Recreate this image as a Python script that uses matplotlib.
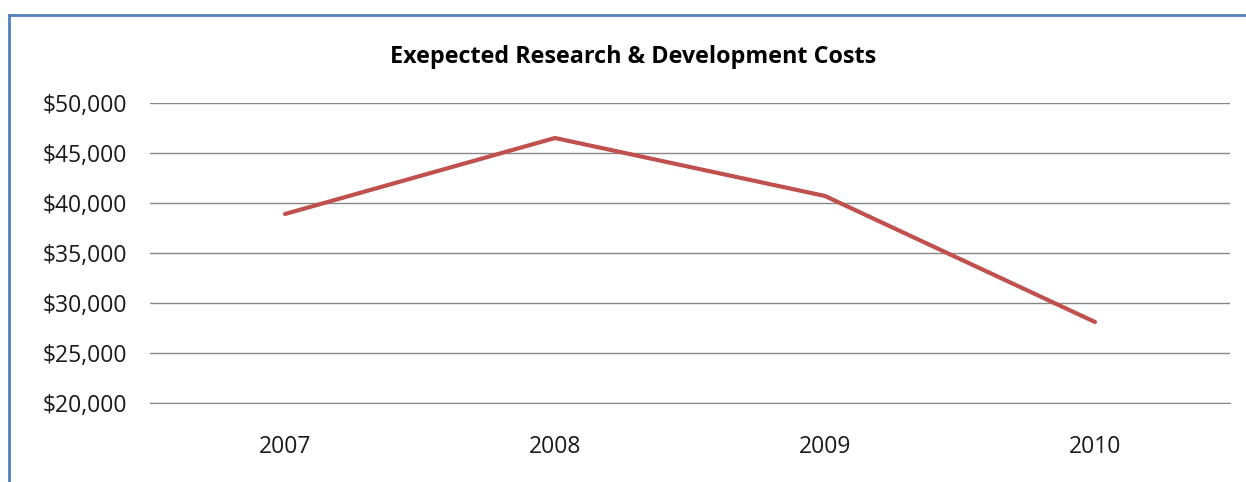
import matplotlib.pyplot as plt
from matplotlib.lines import Line2D
from matplotlib.ticker import FuncFormatter

years = ["2007", "2008", "2009", "2010"]
costs = [38900, 46500, 40700, 28100]
y_ticks = [20000, 25000, 30000, 35000, 40000, 45000, 50000]

plt.rcParams['font.family'] = ['Open Sans', 'DejaVu Sans']

W, H = 1246, 482
fig = plt.figure(figsize=(W / 100, H / 100), dpi=100)
ax = fig.add_axes([150 / W, 1 - 403 / H, 1080 / W, 300 / H])

x = [i + 0.5 for i in range(len(years))]
ax.plot(x, costs, color="#C0504D", lw=3, solid_capstyle="round", solid_joinstyle="round", zorder=3)

ax.set_xlim(0, len(years))
ax.set_ylim(20000, 50000)
ax.set_yticks(y_ticks)
ax.yaxis.set_major_formatter(FuncFormatter(lambda v, p: "${:,.0f}".format(v)))
ax.set_xticks(x)
ax.set_xticklabels(years)
ax.grid(axis="y", color="#868686", lw=1)
ax.set_axisbelow(True)
for s in ["top", "right", "left"]:
    ax.spines[s].set_visible(False)
ax.spines["bottom"].set_color("#868686")
ax.tick_params(axis="both", length=0, labelsize=16.5, colors="#1a1a1a")
ax.tick_params(axis="y", pad=16.5)
ax.tick_params(axis="x", pad=23)

fig.text(633 / W, 1 - 57 / H, "Exepected Research & Development Costs",
         ha="center", va="center", fontsize=16.8, fontweight="bold", color="black")

# chart border (blue, top and left visible)
fig.add_artist(Line2D([9 / W, 1], [1 - 15 / H, 1 - 15 / H], color="#4F81BD", lw=2))
fig.add_artist(Line2D([9 / W, 9 / W], [0, 1 - 15 / H], color="#4F81BD", lw=2))

fig.savefig("out.png", dpi=100)
